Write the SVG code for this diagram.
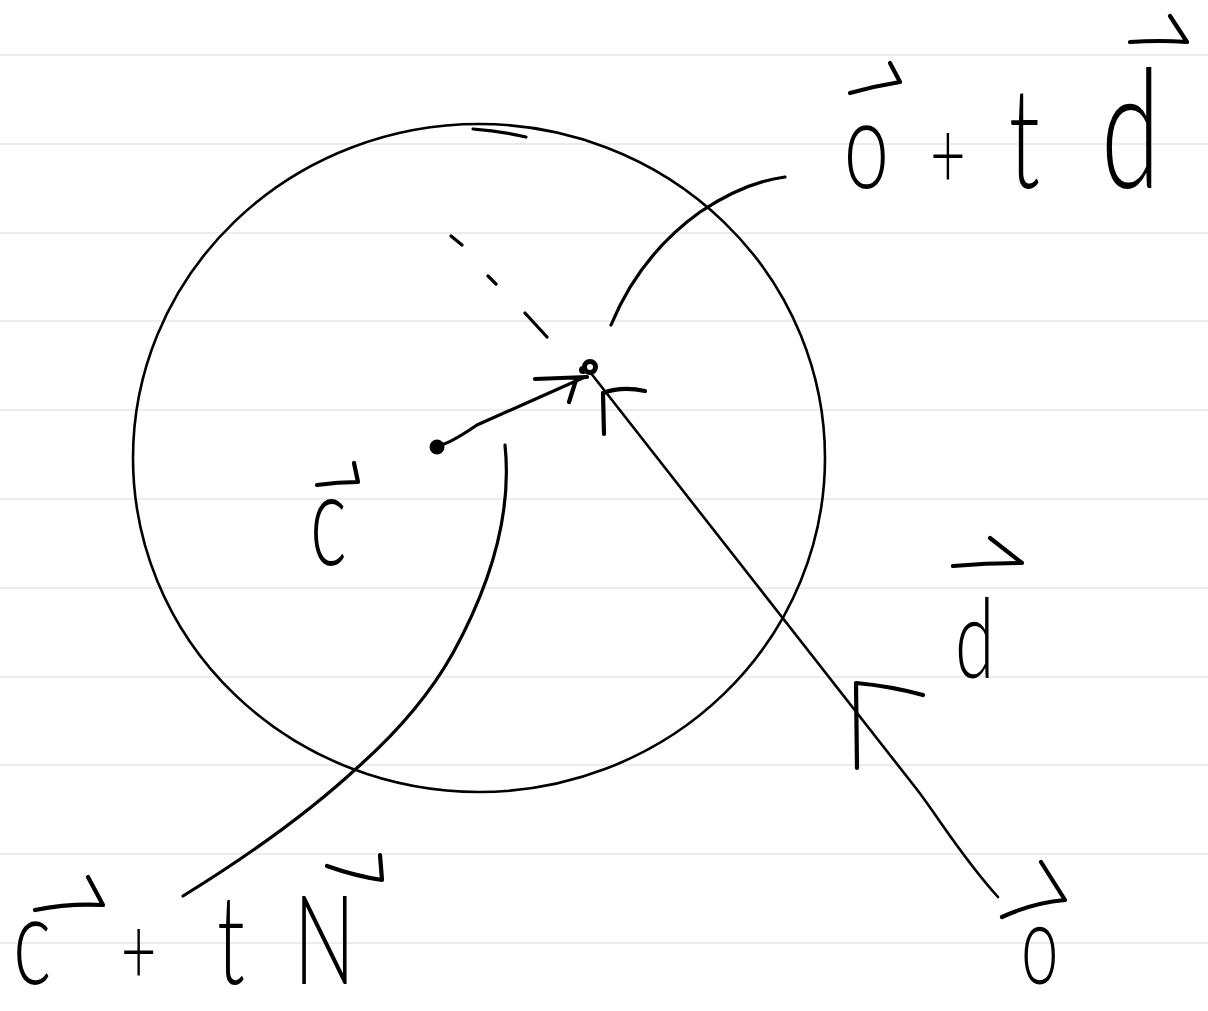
<svg xmlns="http://www.w3.org/2000/svg" width="1208" height="1011" viewBox="0 0 1208 1011">
<style>
.rule{stroke:#ececec;stroke-width:2}
.ink{fill:none;stroke:#000;stroke-linecap:round;stroke-linejoin:round}
.thin{stroke-width:2.6}
.med{stroke-width:3.2}
.bold{stroke-width:4.2}
.lbl{font-family:Lato,"Liberation Sans",sans-serif;font-weight:300;fill:#000}
</style>
<rect width="1208" height="1011" fill="#fff"/>
<g id="rules">
<line class="rule" x1="0" y1="55" x2="1208" y2="55"/>
<line class="rule" x1="0" y1="144" x2="1208" y2="144"/>
<line class="rule" x1="0" y1="233" x2="1208" y2="233"/>
<line class="rule" x1="0" y1="321" x2="1208" y2="321"/>
<line class="rule" x1="0" y1="410" x2="1208" y2="410"/>
<line class="rule" x1="0" y1="499" x2="1208" y2="499"/>
<line class="rule" x1="0" y1="588" x2="1208" y2="588"/>
<line class="rule" x1="0" y1="677" x2="1208" y2="677"/>
<line class="rule" x1="0" y1="765" x2="1208" y2="765"/>
<line class="rule" x1="0" y1="854" x2="1208" y2="854"/>
<line class="rule" x1="0" y1="943" x2="1208" y2="943"/>
</g>
<g id="sphere">
<ellipse class="ink thin" cx="479" cy="458" rx="346" ry="334"/>
<path class="ink med" d="M473,129 Q500,131 526,137"/>
</g>
<g id="center-c">
<circle cx="437" cy="447" r="7.5" fill="#000"/>
</g>
<g id="hit-point">
<circle class="ink" cx="590" cy="367" r="5.5" stroke-width="5"/>
<circle cx="583" cy="370" r="4" fill="#000"/>
</g>
<g id="connectors">
<path class="ink med" d="M451,236 L462,245 M488,276 L496,284 M525,313 L547,337"/>
<path class="ink med" d="M444,444 Q455,440 477,425 L585,377"/>
<path class="ink bold" d="M535,379 L587,377 M569,402 L576,380"/>
<path class="ink thin" d="M590,372 L915,787 C935,812 960,855 998,897"/>
<path class="ink bold" d="M604,434 L603,393 Q622,386 645,391"/>
<path class="ink bold" d="M857,768 L856,683 Q890,686 923,695"/>
<path class="ink med" d="M611,325 Q640,255 700,212 Q745,182 785,177"/>
<path class="ink med" d="M505,445 Q515,540 453,653 Q420,712 358,767 Q290,830 183,896"/>
</g>
<g id="label-hit">
<path class="ink bold" d="M850,93 Q875,86 900,82 L890,63"/>
<path class="ink bold" d="M1130,42 Q1160,40 1187,42 L1170,16"/>
<text class="lbl" transform="translate(0,188) scale(0.65,1)"><tspan x="1298" font-size="125">o</tspan><tspan x="1405" font-size="95"> +</tspan><tspan x="1514" font-size="140"> t</tspan><tspan x="1649" font-size="165"> d</tspan></text>
</g>
<g id="label-c">
<path class="ink bold" d="M317,485 Q338,482 358,482 L354,463"/>
<text class="lbl" transform="translate(310,565) scale(0.6,1)" font-size="130">c</text>
</g>
<g id="label-d">
<path class="ink bold" d="M953,566 Q988,563 1022,563 L990,538"/>
<text class="lbl" transform="translate(955,678) scale(0.65,1)" font-size="110">d</text>
</g>
<g id="label-o">
<path class="ink bold" d="M1002,917 Q1032,903 1065,900 L1041,862"/>
<text class="lbl" transform="translate(1021,984) scale(0.6,1)" font-size="112">o</text>
</g>
<g id="label-normal">
<path class="ink bold" d="M35,910 Q70,903 103,905 L88,877"/>
<path class="ink bold" d="M327,866 Q355,876 382,880 L380,855"/>
<text class="lbl" transform="translate(0,984) scale(0.65,1)"><tspan x="20" font-size="125">c</tspan><tspan x="160" font-size="95"> +</tspan><tspan x="300" font-size="125"> t</tspan><tspan x="418" font-size="125"> N</tspan></text>
</g>
</svg>
